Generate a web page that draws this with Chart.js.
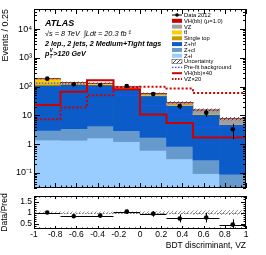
<!DOCTYPE html>
<html>
<head>
<meta charset="utf-8">
<script src="https://cdn.jsdelivr.net/npm/chart.js@4.4.1/dist/chart.umd.min.js"></script>
<style>
  html, body { margin: 0; padding: 0; background: #fff; }
  #wrap { position: relative; width: 266px; height: 255px; }
  #main { position: absolute; left: 0; top: 0; }
  #ratio { position: absolute; left: 0; top: 192px; }
</style>
</head>
<body>
<div id="wrap">
  <canvas id="main" width="266" height="192"></canvas>
  <canvas id="ratio" width="266" height="63"></canvas>
</div>
<script>
// bins of the BDT output
const binEdges = [-1, -0.75, -0.5, -0.25, 0, 0.25, 0.5, 0.75, 1];
const binCenters = [-0.875, -0.625, -0.375, -0.125, 0.125, 0.375, 0.625, 0.875];

// background / signal components (events per bin)
const zl = [1.4, 1.37, 1.64, 1.23, 0.61, 0.31, 0.095, 0.02];
const zcl = [1.6, 2.1, 2.7, 1.7, 1.1, 0.52, 0.19, 0.07];
const zhf = [108, 114, 110, 78, 46, 21, 10.5, 4.7];
const singleTop = [10, 6, 4, 4, 1.5, 0.7, 0.2, 0.05];
const ttbar = [62, 14, 10, 8, 3, 1, 0.3, 0.05];
const vz = [5, 2, 2, 4, 5, 4.5, 4.2, 2.8];
const vh = [2, 1, 1.5, 3, 0.8, 0.3, 0.1, 0.05];
const relUnc = [0.03, 0.03, 0.03, 0.035, 0.04, 0.06, 0.08, 0.1];

// lines
const preFit = [185, 133, 124, 90, 50, 22, 10.6, 4.0];
const vhTimes40 = [6, 23, 66, 166, 81, 10.8, 5.5, 1.7];
const vzTimes20 = [4.6, 7.3, 19, 50, 95, 100, 86, 60];

// data
const data2012 = [190, 120, 113, 105, 55, 21, 12.3, 3.3];
const dataErr = [14, 11, 10.6, 10.2, 7.4, 4.6, 3.5, 1.8];
const ratioVals = [1.0, 0.83, 0.86, 1.04, 0.94, 0.73, 0.77, 0.45];
const ratioErr = [0.07, 0.08, 0.08, 0.09, 0.13, 0.18, 0.22, 0.24];

// ticks
const xTicks = [-1, -0.8, -0.6, -0.4, -0.2, 0, 0.2, 0.4, 0.6, 0.8, 1];
const mainYTicks = [0.1, 1, 10, 100, 1000, 10000];
const ratioYTicks = [0.5, 1, 1.5];

const fam = "'Liberation Sans', Arial, sans-serif";
Chart.defaults.font.family = fam;
Chart.defaults.color = '#000';

function makeHatch(color) {
  const c = document.createElement('canvas');
  c.width = 4; c.height = 4;
  const g = c.getContext('2d');
  g.strokeStyle = color;
  g.lineWidth = 0.9;
  g.beginPath();
  g.moveTo(0, 4); g.lineTo(4, 0);
  g.moveTo(-1, 1); g.lineTo(1, -1);
  g.moveTo(3, 5); g.lineTo(5, 3);
  g.stroke();
  return g.createPattern(c, 'repeat');
}
const hatchDark = makeHatch('#333');
const hatchLight = makeHatch('#888');

const sup = { '-': '\u207B', '0': '\u2070', '1': '\u00B9', '2': '\u00B2', '3': '\u00B3', '4': '\u2074', '5': '\u2075' };
function fmtPow(v) {
  const e = Math.round(Math.log10(v));
  if (e === 0) return '1';
  if (e === 1) return '10';
  return '10' + String(e).split('').map(c => sup[c]).join('');
}
function fmtX(v) {
  const r = Math.round(v * 10) / 10;
  return r === 0 ? '0' : String(r);
}
// keep axis boxes exactly where we want them
function fixWidth(w) {
  return s => { s.width = w; s.paddingTop = 0; s.paddingBottom = 0; };
}

// stack from bottom to top
const stack = [
  { label: 'Z+l', values: zl, color: '#99ccff' },
  { label: 'Z+cl', values: zcl, color: '#6699cc' },
  { label: 'Z+hf', values: zhf, color: '#0b5cc9' },
  { label: 'Single top', values: singleTop, color: '#cc9a00' },
  { label: 't\u0074\u0304', values: ttbar, color: '#ffcc00' },
  { label: 'VZ', values: vz, color: '#a0a0a0' },
  { label: 'VH(bb) (\u03BC=1.0)', values: vh, color: '#cc0000' }
];
let cum = binCenters.map(() => 0);
const stackSets = stack.map(s => {
  const lo = cum.slice();
  cum = cum.map((v, i) => v + s.values[i]);
  return {
    type: 'bar', label: s.label, xAxisID: 'xb', yAxisID: 'y',
    data: binCenters.map((x, i) => ({ x: x, y: [lo[i] > 0 ? lo[i] : 1e-3, cum[i]] })),
    backgroundColor: s.color, borderWidth: 0,
    grouped: false, barPercentage: 1, categoryPercentage: 1
  };
});
const total = cum;

function stepLine(label, vals, color, dash, width) {
  return {
    type: 'line', label: label, xAxisID: 'x', yAxisID: 'y',
    data: binEdges.map((e, i) => ({ x: e, y: vals[Math.min(i, vals.length - 1)] })),
    stepped: 'after', borderColor: color, borderWidth: width, borderDash: dash,
    pointRadius: 0, fill: false
  };
}

// draws the frame and inner ROOT-style ticks
const frameTicks = {
  id: 'frameTicks',
  afterDraw(chart, args, o) {
    const { ctx, chartArea: a } = chart;
    const xs = chart.scales.x, ys = chart.scales.y;
    ctx.save();
    ctx.strokeStyle = '#000';
    ctx.lineWidth = 1;
    ctx.beginPath();
    for (let k = 0; k <= 40; k++) {
      const v = -1 + k * 0.05;
      const len = k % 4 === 0 ? o.xMajor : o.xMinor;
      const p = Math.round(xs.getPixelForValue(v)) + 0.5;
      ctx.moveTo(p, a.bottom); ctx.lineTo(p, a.bottom - len);
      ctx.moveTo(p, a.top); ctx.lineTo(p, a.top + len);
    }
    const yv = [];
    if (ys.type === 'logarithmic') {
      for (let e = -2; e <= 4; e++) for (let m = 1; m <= 9; m++) yv.push({ v: m * Math.pow(10, e), major: m === 1 });
    } else {
      for (let k = 3; k <= 17; k++) yv.push({ v: k / 10, major: k % 5 === 0 });
    }
    yv.forEach(t => {
      if (t.v < ys.min || t.v > ys.max) return;
      const p = Math.round(ys.getPixelForValue(t.v)) + 0.5;
      const len = t.major ? o.yMajor : o.yMinor;
      ctx.moveTo(a.left, p); ctx.lineTo(a.left + len, p);
      ctx.moveTo(a.right, p); ctx.lineTo(a.right - len, p);
    });
    ctx.stroke();
    ctx.strokeRect(Math.round(a.left) + 0.5, Math.round(a.top) + 0.5, Math.round(a.width) - 1, Math.round(a.height) - 1);
    ctx.restore();
  }
};

// error bars for datasets carrying errY / errX
const errorBars = {
  id: 'errorBars',
  afterDatasetsDraw(chart) {
    const ctx = chart.ctx, a = chart.chartArea;
    chart.data.datasets.forEach((ds, di) => {
      if (!ds.errY) return;
      const meta = chart.getDatasetMeta(di);
      const xs = chart.scales[meta.xAxisID], ys = chart.scales[meta.yAxisID];
      ctx.save();
      ctx.beginPath(); ctx.rect(a.left, a.top, a.width, a.height); ctx.clip();
      ctx.strokeStyle = '#000';
      ctx.lineWidth = 1;
      ds.data.forEach((p, i) => {
        const px = Math.round(xs.getPixelForValue(p.x)) + 0.5;
        const py = Math.round(ys.getPixelForValue(p.y)) + 0.5;
        ctx.beginPath();
        ctx.moveTo(px, ys.getPixelForValue(p.y - ds.errY[i]));
        ctx.lineTo(px, ys.getPixelForValue(p.y + ds.errY[i]));
        if (ds.errX) {
          ctx.moveTo(xs.getPixelForValue(p.x - ds.errX), py);
          ctx.lineTo(xs.getPixelForValue(p.x + ds.errX), py);
        }
        ctx.stroke();
      });
      ctx.restore();
    });
  }
};

// ATLAS labels and legend
const mainText = {
  id: 'mainText',
  afterDraw(chart) {
    const ctx = chart.ctx;
    ctx.save();
    ctx.fillStyle = '#000';
    ctx.textBaseline = 'alphabetic';
    ctx.font = 'bold italic 9px ' + fam;
    ctx.fillText('ATLAS', 45, 26);
    ctx.font = 'italic 7.3px ' + fam;
    ctx.fillText('\u221As = 8 TeV  \u222BLdt = 20.3 fb\u207B\u00B9', 45, 36);
    ctx.font = 'bold italic 7.2px ' + fam;
    ctx.fillText('2 lep., 2 jets, 2 Medium+Tight tags', 45, 45.5);
    ctx.fillText('p', 45, 55.5);
    let w = ctx.measureText('p').width;
    ctx.font = 'bold italic 5px ' + fam;
    ctx.fillText('T', 45 + w, 57.5);
    ctx.fillText('V', 45 + w, 51.5);
    const w2 = ctx.measureText('V').width;
    ctx.font = 'bold italic 7.2px ' + fam;
    ctx.fillText('>120 GeV', 45 + w + w2 + 0.5, 55.5);

    // legend
    const entries = [
      { label: 'Data 2012', kind: 'marker' },
      { label: stack[6].label, kind: 'box', fill: stack[6].color },
      { label: stack[5].label, kind: 'box', fill: stack[5].color },
      { label: stack[4].label, kind: 'box', fill: stack[4].color },
      { label: stack[3].label, kind: 'box', fill: stack[3].color },
      { label: stack[2].label, kind: 'box', fill: stack[2].color },
      { label: stack[1].label, kind: 'box', fill: stack[1].color },
      { label: stack[0].label, kind: 'box', fill: stack[0].color },
      { label: 'Uncertainty', kind: 'box', fill: hatchDark, border: '#555' },
      { label: 'Pre-fit background', kind: 'line', color: '#3050ff', dash: [1.5, 1.5], width: 1.2 },
      { label: 'VH(bb)\u00D740', kind: 'line', color: '#cc0000', dash: [], width: 2 },
      { label: 'VZ\u00D720', kind: 'line', color: '#cc0000', dash: [1.5, 1.5], width: 2 }
    ];
    ctx.font = '5.8px ' + fam;
    ctx.textBaseline = 'middle';
    entries.forEach((e, i) => {
      const y = 15 + i * 5.82;
      if (e.kind === 'box') {
        ctx.fillStyle = '#fff';
        ctx.fillRect(172, y - 2, 10, 4);
        ctx.fillStyle = e.fill;
        ctx.fillRect(172, y - 2, 10, 4);
        if (e.border) { ctx.strokeStyle = e.border; ctx.lineWidth = 0.6; ctx.strokeRect(172, y - 2, 10, 4); }
      } else if (e.kind === 'line') {
        ctx.strokeStyle = e.color; ctx.lineWidth = e.width; ctx.setLineDash(e.dash);
        ctx.beginPath(); ctx.moveTo(172, y); ctx.lineTo(182, y); ctx.stroke();
        ctx.setLineDash([]);
      } else {
        ctx.strokeStyle = '#000'; ctx.lineWidth = 1;
        ctx.beginPath(); ctx.moveTo(172, y); ctx.lineTo(182, y); ctx.stroke();
        ctx.fillStyle = '#000';
        ctx.beginPath(); ctx.arc(177, y, 1.8, 0, Math.PI * 2); ctx.fill();
      }
      ctx.fillStyle = '#000';
      ctx.fillText(e.label, 184, y + 0.3);
    });
    ctx.restore();
  }
};

const mainChart = new Chart(document.getElementById('main'), {
  type: 'bar',
  data: {
    datasets: [
      {
        type: 'line', label: 'Data 2012', xAxisID: 'x', yAxisID: 'y',
        data: binCenters.map((x, i) => ({ x: x, y: data2012[i] })),
        showLine: false, pointRadius: 2.3, pointBackgroundColor: '#000', pointBorderWidth: 0,
        errY: dataErr
      },
      stepLine('VH(bb)\u00D740', vhTimes40, '#cc0000', [], 2),
      stepLine('VZ\u00D720', vzTimes20, '#cc0000', [2, 2], 2),
      stepLine('Pre-fit background', preFit, '#3050ff', [1.5, 1.5], 1.2),
      {
        type: 'bar', label: 'Uncertainty', xAxisID: 'xb', yAxisID: 'y',
        data: binCenters.map((x, i) => ({ x: x, y: [total[i] * (1 - relUnc[i]), total[i] * (1 + relUnc[i])] })),
        backgroundColor: hatchDark, borderWidth: 0,
        grouped: false, barPercentage: 1, categoryPercentage: 1
      },
      ...stackSets.slice().reverse()
    ]
  },
  options: {
    responsive: false,
    animation: false,
    layout: { padding: { left: 0, right: 20, top: 9, bottom: 1 } },
    plugins: {
      legend: { display: false },
      tooltip: { enabled: false },
      frameTicks: { xMajor: 5, xMinor: 2.5, yMajor: 6, yMinor: 3 }
    },
    scales: {
      x: { type: 'linear', min: -1, max: 1, offset: false, display: false },
      xb: { type: 'linear', min: -1, max: 1, offset: false, display: false, ticks: { stepSize: 0.25 } },
      y: {
        type: 'logarithmic', min: 0.03, max: 50000, position: 'left',
        afterBuildTicks: s => { s.ticks = mainYTicks.map(v => ({ value: v })); },
        afterFit: fixWidth(34),
        grid: { display: false, drawTicks: false, tickLength: 0 }, border: { display: false },
        ticks: { padding: 2, font: { size: 9 }, callback: v => fmtPow(v) },
        title: { display: true, text: 'Events / 0.25', align: 'end', font: { size: 9 }, padding: { top: 0, bottom: 2 } }
      }
    }
  },
  plugins: [frameTicks, errorBars, mainText]
});

const refLine = {
  id: 'refLine',
  beforeDatasetsDraw(chart) {
    const ctx = chart.ctx, a = chart.chartArea;
    const p = Math.round(chart.scales.y.getPixelForValue(1)) + 0.5;
    ctx.save();
    ctx.strokeStyle = '#777';
    ctx.lineWidth = 1;
    ctx.setLineDash([1.5, 1.5]);
    ctx.beginPath(); ctx.moveTo(a.left, p); ctx.lineTo(a.right, p); ctx.stroke();
    ctx.restore();
  }
};

const ratioChart = new Chart(document.getElementById('ratio'), {
  type: 'bar',
  data: {
    datasets: [
      {
        type: 'line', label: 'Data/Pred', xAxisID: 'x', yAxisID: 'y',
        data: binCenters.map((x, i) => ({ x: x, y: ratioVals[i] })),
        showLine: false, pointRadius: 2.3, pointBackgroundColor: '#000', pointBorderWidth: 0,
        errY: ratioErr, errX: 0.125
      },
      {
        type: 'bar', label: 'Uncertainty', xAxisID: 'xb', yAxisID: 'y',
        data: binCenters.map((x, i) => ({ x: x, y: [1 - relUnc[i], 1 + relUnc[i]] })),
        backgroundColor: hatchLight, borderWidth: 0,
        grouped: false, barPercentage: 1, categoryPercentage: 1
      }
    ]
  },
  options: {
    responsive: false,
    animation: false,
    layout: { padding: { left: 0, right: 20, top: 2, bottom: 1 } },
    plugins: {
      legend: { display: false },
      tooltip: { enabled: false },
      frameTicks: { xMajor: 3, xMinor: 1.5, yMajor: 5, yMinor: 2.5 }
    },
    scales: {
      x: {
        type: 'linear', min: -1, max: 1, offset: false,
        afterBuildTicks: s => { s.ticks = xTicks.map(v => ({ value: v })); },
        afterFit: s => { s.height = 25; s.paddingLeft = 0; s.paddingRight = 0; },
        grid: { display: false, drawTicks: false, tickLength: 0 }, border: { display: false },
        ticks: { padding: 1, font: { size: 8.5 }, maxRotation: 0, autoSkip: false, callback: v => fmtX(v) },
        title: { display: true, text: 'BDT discriminant, VZ', align: 'end', font: { size: 8.5 }, padding: { top: 0, bottom: 3 } }
      },
      xb: { type: 'linear', min: -1, max: 1, offset: false, display: false, ticks: { stepSize: 0.25 } },
      y: {
        type: 'linear', min: 0.25, max: 1.75, position: 'left',
        afterBuildTicks: s => { s.ticks = ratioYTicks.map(v => ({ value: v })); },
        afterFit: fixWidth(34),
        grid: { display: false, drawTicks: false, tickLength: 0 }, border: { display: false },
        ticks: { padding: 2, font: { size: 8.5 }, callback: v => String(v) },
        title: { display: true, text: 'Data/Pred', font: { size: 8.5 }, padding: { top: 0, bottom: 2 } }
      }
    }
  },
  plugins: [refLine, frameTicks, errorBars]
});
</script>
</body>
</html>
